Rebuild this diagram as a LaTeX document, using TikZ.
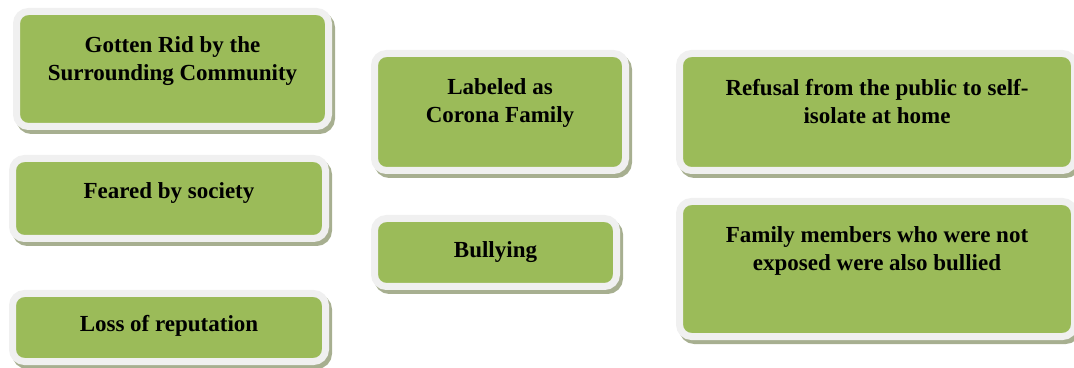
\documentclass[tikz,border=0pt]{standalone}
\usepackage{fontspec}
\setmainfont{Liberation Serif}
\usetikzlibrary{shadows}
\definecolor{boxgreen}{HTML}{9BBB59}
\definecolor{framegrey}{HTML}{F0F0F0}
\definecolor{shadowgrey}{HTML}{A7AF90}

\begin{document}
\begin{tikzpicture}[x=0.5pt, y=-0.5pt,
	box/.style={draw=framegrey, fill=boxgreen, line width=3.5pt, rounded corners=6pt,
		align=center, font=\fontsize{11.5}{14}\selectfont\bfseries,
		drop shadow={fill=shadowgrey, draw=shadowgrey, line width=3.5pt, shadow xshift=1.5pt, shadow yshift=-2pt, opacity=1}}]
	\useasboundingbox (0,0) rectangle (1074,368);

	\node[box, minimum width=156pt, minimum height=57.5pt, text depth=10pt] (gotten) at (172.5,69) {Gotten Rid by the\\Surrounding Community};
	\node[box, minimum width=156.5pt, minimum height=40pt, text depth=8pt] (feared) at (169,198.5) {Feared by society};
	\node[box, minimum width=156.5pt, minimum height=34pt, text depth=4pt] (loss) at (169,327.5) {Loss of reputation};

	\node[box, minimum width=125.5pt, minimum height=58.5pt, text depth=11pt] (labeled) at (500,112) {Labeled as\\Corona Family};
	\node[box, minimum width=121pt, minimum height=34pt, text depth=3pt] (bullying) at (495.5,252.5) {Bullying};

	\node[box, minimum width=197.5pt, minimum height=58.5pt, text depth=11pt] (refusal) at (877,112) {Refusal from the public to self-\\isolate at home};
	\node[box, minimum width=197.5pt, minimum height=67.5pt, text depth=20pt] (members) at (877,269) {Family members who were not\\exposed were also bullied};
\end{tikzpicture}
\end{document}
